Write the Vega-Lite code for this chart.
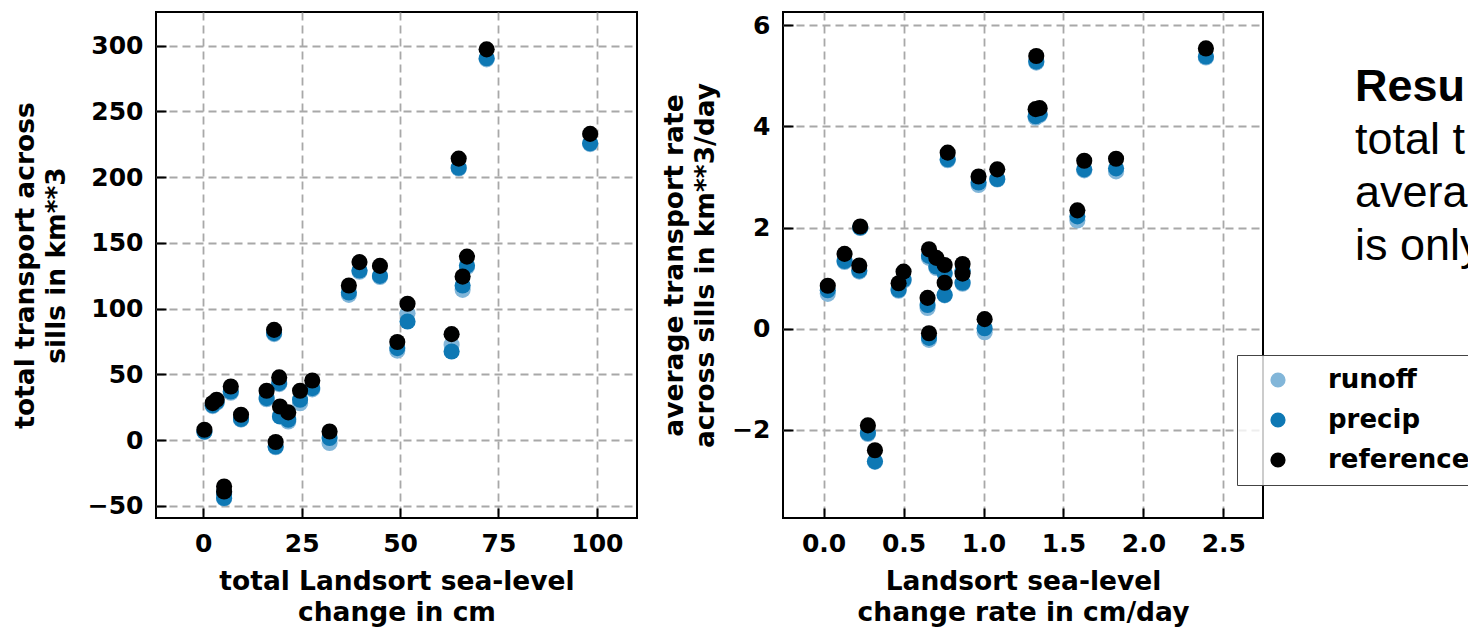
{
  "$schema": "https://vega.github.io/schema/vega-lite/v6.json",
  "padding": {"left": 11, "top": 11, "right": 0, "bottom": 0},
  "background": "white",
  "datasets": {
    "total": [
      {"series": "runoff", "x": 72.0, "y": 289.5}, {"series": "runoff", "x": 98.3, "y": 225.0}, {"series": "runoff", "x": 64.9, "y": 206.5},
      {"series": "runoff", "x": 39.7, "y": 128.0}, {"series": "runoff", "x": 44.9, "y": 124.0}, {"series": "runoff", "x": 37.0, "y": 110.4},
      {"series": "runoff", "x": 67.0, "y": 131.5}, {"series": "runoff", "x": 65.9, "y": 114.2}, {"series": "runoff", "x": 51.9, "y": 96.5},
      {"series": "runoff", "x": 49.3, "y": 68.0}, {"series": "runoff", "x": 63.1, "y": 72.4}, {"series": "runoff", "x": 18.0, "y": 80.5},
      {"series": "runoff", "x": 19.3, "y": 42.5}, {"series": "runoff", "x": 7.0, "y": 36.0}, {"series": "runoff", "x": 2.4, "y": 25.8},
      {"series": "runoff", "x": 3.4, "y": 28.3}, {"series": "runoff", "x": 16.1, "y": 31.0}, {"series": "runoff", "x": 24.6, "y": 28.0},
      {"series": "runoff", "x": 27.7, "y": 38.5}, {"series": "runoff", "x": 19.5, "y": 18.5}, {"series": "runoff", "x": 21.6, "y": 14.1},
      {"series": "runoff", "x": 9.6, "y": 15.5}, {"series": "runoff", "x": 0.3, "y": 6.0}, {"series": "runoff", "x": 18.4, "y": -5.5},
      {"series": "runoff", "x": 32.1, "y": -2.3}, {"series": "runoff", "x": 5.3, "y": -41.0}, {"series": "runoff", "x": 5.3, "y": -44.5},
      {"series": "precip", "x": 72.0, "y": 290.3}, {"series": "precip", "x": 98.3, "y": 225.7}, {"series": "precip", "x": 64.9, "y": 207.1},
      {"series": "precip", "x": 39.7, "y": 128.9}, {"series": "precip", "x": 44.9, "y": 124.8}, {"series": "precip", "x": 37.0, "y": 112.2},
      {"series": "precip", "x": 67.0, "y": 132.7}, {"series": "precip", "x": 65.9, "y": 117.5}, {"series": "precip", "x": 51.9, "y": 90.1},
      {"series": "precip", "x": 49.3, "y": 69.9}, {"series": "precip", "x": 63.1, "y": 67.3}, {"series": "precip", "x": 18.0, "y": 81.3},
      {"series": "precip", "x": 19.3, "y": 43.3}, {"series": "precip", "x": 7.0, "y": 36.9}, {"series": "precip", "x": 2.4, "y": 26.5},
      {"series": "precip", "x": 3.4, "y": 29.0}, {"series": "precip", "x": 16.1, "y": 31.9}, {"series": "precip", "x": 24.6, "y": 30.6},
      {"series": "precip", "x": 27.7, "y": 39.5}, {"series": "precip", "x": 19.5, "y": 17.9}, {"series": "precip", "x": 21.6, "y": 15.4},
      {"series": "precip", "x": 9.6, "y": 16.0}, {"series": "precip", "x": 0.3, "y": 6.5}, {"series": "precip", "x": 18.4, "y": -4.9},
      {"series": "precip", "x": 32.1, "y": 1.5}, {"series": "precip", "x": 5.3, "y": -40.0}, {"series": "precip", "x": 5.3, "y": -44.1},
      {"series": "reference", "x": 72.0, "y": 297.1}, {"series": "reference", "x": 98.3, "y": 232.8}, {"series": "reference", "x": 64.9, "y": 214.0},
      {"series": "reference", "x": 39.7, "y": 135.3}, {"series": "reference", "x": 44.9, "y": 132.4}, {"series": "reference", "x": 37.0, "y": 117.5},
      {"series": "reference", "x": 67.0, "y": 139.5}, {"series": "reference", "x": 65.9, "y": 124.3}, {"series": "reference", "x": 51.9, "y": 103.6},
      {"series": "reference", "x": 49.3, "y": 74.5}, {"series": "reference", "x": 63.1, "y": 80.5}, {"series": "reference", "x": 18.0, "y": 83.8},
      {"series": "reference", "x": 19.3, "y": 47.6}, {"series": "reference", "x": 7.0, "y": 40.7}, {"series": "reference", "x": 2.4, "y": 28.1},
      {"series": "reference", "x": 3.4, "y": 30.6}, {"series": "reference", "x": 16.1, "y": 37.5}, {"series": "reference", "x": 24.6, "y": 37.5},
      {"series": "reference", "x": 27.7, "y": 45.3}, {"series": "reference", "x": 19.5, "y": 25.5}, {"series": "reference", "x": 21.6, "y": 21.0},
      {"series": "reference", "x": 9.6, "y": 19.2}, {"series": "reference", "x": 0.3, "y": 7.8}, {"series": "reference", "x": 18.4, "y": -1.5},
      {"series": "reference", "x": 32.1, "y": 6.5}, {"series": "reference", "x": 5.3, "y": -35.3}, {"series": "reference", "x": 5.3, "y": -39.1}
    ],
    "rate": [
      {"series": "runoff", "x": 2.391, "y": 5.36}, {"series": "runoff", "x": 1.330, "y": 5.26}, {"series": "runoff", "x": 1.326, "y": 4.17},
      {"series": "runoff", "x": 1.351, "y": 4.22}, {"series": "runoff", "x": 0.776, "y": 3.33}, {"series": "runoff", "x": 0.969, "y": 2.84},
      {"series": "runoff", "x": 1.086, "y": 2.95}, {"series": "runoff", "x": 1.630, "y": 3.13}, {"series": "runoff", "x": 1.829, "y": 3.11},
      {"series": "runoff", "x": 1.587, "y": 2.14}, {"series": "runoff", "x": 0.229, "y": 1.99}, {"series": "runoff", "x": 0.131, "y": 1.32},
      {"series": "runoff", "x": 0.223, "y": 1.13}, {"series": "runoff", "x": 0.659, "y": 1.40}, {"series": "runoff", "x": 0.705, "y": 1.20},
      {"series": "runoff", "x": 0.757, "y": 1.08}, {"series": "runoff", "x": 0.869, "y": 1.13}, {"series": "runoff", "x": 0.500, "y": 0.95},
      {"series": "runoff", "x": 0.026, "y": 0.69}, {"series": "runoff", "x": 0.469, "y": 0.75}, {"series": "runoff", "x": 0.757, "y": 0.66},
      {"series": "runoff", "x": 0.869, "y": 0.89}, {"series": "runoff", "x": 0.650, "y": 0.41}, {"series": "runoff", "x": 0.659, "y": -0.22},
      {"series": "runoff", "x": 1.007, "y": -0.07}, {"series": "runoff", "x": 0.277, "y": -2.08}, {"series": "runoff", "x": 0.321, "y": -2.63},
      {"series": "precip", "x": 2.391, "y": 5.38}, {"series": "precip", "x": 1.330, "y": 5.28}, {"series": "precip", "x": 1.326, "y": 4.20},
      {"series": "precip", "x": 1.351, "y": 4.24}, {"series": "precip", "x": 0.776, "y": 3.35}, {"series": "precip", "x": 0.969, "y": 2.89},
      {"series": "precip", "x": 1.086, "y": 2.96}, {"series": "precip", "x": 1.630, "y": 3.15}, {"series": "precip", "x": 1.829, "y": 3.17},
      {"series": "precip", "x": 1.587, "y": 2.22}, {"series": "precip", "x": 0.229, "y": 2.00}, {"series": "precip", "x": 0.131, "y": 1.34},
      {"series": "precip", "x": 0.223, "y": 1.15}, {"series": "precip", "x": 0.659, "y": 1.44}, {"series": "precip", "x": 0.705, "y": 1.23},
      {"series": "precip", "x": 0.757, "y": 1.10}, {"series": "precip", "x": 0.869, "y": 1.15}, {"series": "precip", "x": 0.500, "y": 0.97},
      {"series": "precip", "x": 0.026, "y": 0.76}, {"series": "precip", "x": 0.469, "y": 0.77}, {"series": "precip", "x": 0.757, "y": 0.67},
      {"series": "precip", "x": 0.869, "y": 0.91}, {"series": "precip", "x": 0.650, "y": 0.47}, {"series": "precip", "x": 0.659, "y": -0.18},
      {"series": "precip", "x": 1.007, "y": 0.01}, {"series": "precip", "x": 0.277, "y": -2.06}, {"series": "precip", "x": 0.321, "y": -2.62},
      {"series": "reference", "x": 2.391, "y": 5.54}, {"series": "reference", "x": 1.330, "y": 5.39}, {"series": "reference", "x": 1.326, "y": 4.34},
      {"series": "reference", "x": 1.351, "y": 4.36}, {"series": "reference", "x": 0.776, "y": 3.48}, {"series": "reference", "x": 0.969, "y": 3.01},
      {"series": "reference", "x": 1.086, "y": 3.15}, {"series": "reference", "x": 1.630, "y": 3.32}, {"series": "reference", "x": 1.829, "y": 3.36},
      {"series": "reference", "x": 1.587, "y": 2.34}, {"series": "reference", "x": 0.229, "y": 2.02}, {"series": "reference", "x": 0.131, "y": 1.48},
      {"series": "reference", "x": 0.223, "y": 1.25}, {"series": "reference", "x": 0.659, "y": 1.57}, {"series": "reference", "x": 0.705, "y": 1.40},
      {"series": "reference", "x": 0.757, "y": 1.26}, {"series": "reference", "x": 0.869, "y": 1.28}, {"series": "reference", "x": 0.500, "y": 1.13},
      {"series": "reference", "x": 0.026, "y": 0.85}, {"series": "reference", "x": 0.469, "y": 0.90}, {"series": "reference", "x": 0.757, "y": 0.91},
      {"series": "reference", "x": 0.869, "y": 1.09}, {"series": "reference", "x": 0.650, "y": 0.61}, {"series": "reference", "x": 0.659, "y": -0.09},
      {"series": "reference", "x": 1.007, "y": 0.19}, {"series": "reference", "x": 0.277, "y": -1.91}, {"series": "reference", "x": 0.321, "y": -2.40}
    ],
    "notes": [
      {"line": 1, "text": "Resu", "kind": "head"},
      {"line": 2, "text": "total t", "kind": "body"},
      {"line": 3, "text": "avera", "kind": "body"},
      {"line": 4, "text": "is only", "kind": "body"}
    ]
  },
  "spacing": 146,
  "bounds": "flush",
  "hconcat": [
    {
      "width": 481,
      "height": 506,
      "data": {"name": "total"},
      "mark": {"type": "circle", "size": 260, "stroke": null, "opacity": 1},
      "encoding": {
        "x": {"field": "x", "type": "quantitative", "scale": {"domain": [-12, 110.2], "nice": false, "zero": false},
              "axis": {"values": [0, 25, 50, 75, 100], "format": "d", "title": ["total Landsort sea-level", "change in cm"]}},
        "y": {"field": "y", "type": "quantitative", "scale": {"domain": [-59.3, 325.5], "nice": false, "zero": false},
              "axis": {"values": [-50, 0, 50, 100, 150, 200, 250, 300], "format": "d", "title": ["total transport across", "sills in km**3"], "titlePadding": 17}},
        "color": {"field": "series", "type": "nominal", "scale": {"domain": ["runoff", "precip", "reference"], "range": ["#82b6d9", "#0e78b4", "#000000"]},
                  "legend": {"orient": "none", "legendX": 1081, "legendY": 343, "title": null}}
      }
    },
    {
      "spacing": 92,
      "bounds": "flush",
      "hconcat": [
        {
          "width": 480,
          "height": 506,
          "data": {"name": "rate"},
          "mark": {"type": "circle", "size": 260, "stroke": null, "opacity": 1},
          "encoding": {
            "x": {"field": "x", "type": "quantitative", "scale": {"domain": [-0.254, 2.748], "nice": false, "zero": false},
                  "axis": {"values": [0, 0.5, 1, 1.5, 2, 2.5], "format": ".1f", "title": ["Landsort sea-level", "change rate in cm/day"]}},
            "y": {"field": "y", "type": "quantitative", "scale": {"domain": [-3.74, 6.26], "nice": false, "zero": false},
                  "axis": {"values": [-2, 0, 2, 4, 6], "format": "d", "title": ["average transport rate", "across sills in km**3/day"]}},
            "color": {"field": "series", "type": "nominal", "scale": {"domain": ["runoff", "precip", "reference"], "range": ["#82b6d9", "#0e78b4", "#000000"]},
                      "legend": {"orient": "none", "legendX": 1081, "legendY": 343, "title": null}}
          }
        },
        {
          "width": 113,
          "height": 506,
          "view": {"stroke": null},
          "data": {"name": "notes"},
          "layer": [
            {
              "transform": [{"filter": "datum.kind === 'head'"}],
              "mark": {"type": "text", "align": "left", "baseline": "alphabetic", "font": "Liberation Sans", "fontSize": 45, "fontWeight": "bold", "color": "black", "clip": true},
              "encoding": {
                "x": {"datum": 0, "type": "quantitative", "scale": {"domain": [0, 1]}, "axis": null},
                "y": {"field": "line", "type": "quantitative", "scale": {"domain": [-0.68, 8.87], "reverse": true, "nice": false, "zero": false}, "axis": null},
                "text": {"field": "text"}
              }
            },
            {
              "transform": [{"filter": "datum.kind === 'body'"}],
              "mark": {"type": "text", "align": "left", "baseline": "alphabetic", "font": "Liberation Sans", "fontSize": 45, "fontWeight": "normal", "color": "black", "clip": true},
              "encoding": {
                "x": {"datum": 0, "type": "quantitative", "scale": {"domain": [0, 1]}, "axis": null},
                "y": {"field": "line", "type": "quantitative", "scale": {"domain": [-0.68, 8.87], "reverse": true, "nice": false, "zero": false}, "axis": null},
                "text": {"field": "text"}
              }
            }
          ]
        }
      ]
    }
  ],
  "resolve": {"scale": {"color": "shared"}},
  "config": {
    "view": {"stroke": "#000000", "strokeWidth": 2},
    "axis": {
      "domain": false,
      "grid": true,
      "gridColor": "#a8a8a8",
      "gridDash": [8, 5],
      "gridWidth": 1.8,
      "ticks": true,
      "tickColor": "#000000",
      "tickWidth": 2,
      "tickSize": -10,
      "labelFont": "DejaVu Sans",
      "labelFontWeight": "bold",
      "labelFontSize": 25,
      "labelColor": "#000000",
      "labelPadding": 23,
      "labelFlush": false,
      "labelOverlap": false,
      "titleFont": "DejaVu Sans",
      "titleFontWeight": "bold",
      "titleFontSize": 26.5,
      "titleColor": "#000000",
      "titleLineHeight": 31,
      "titlePadding": 12
    },
    "legend": {
      "fillColor": "rgba(255,255,255,0.8)",
      "strokeColor": "#444444",
      "padding": 12,
      "cornerRadius": 0,
      "symbolType": "circle",
      "symbolSize": 230,
      "symbolStrokeWidth": 0,
      "symbolOpacity": 1,
      "symbolOffset": 16,
      "labelOffset": 37,
      "labelFont": "DejaVu Sans",
      "labelFontWeight": "bold",
      "labelFontSize": 26,
      "labelColor": "#000000",
      "rowPadding": 14
    }
  }
}
